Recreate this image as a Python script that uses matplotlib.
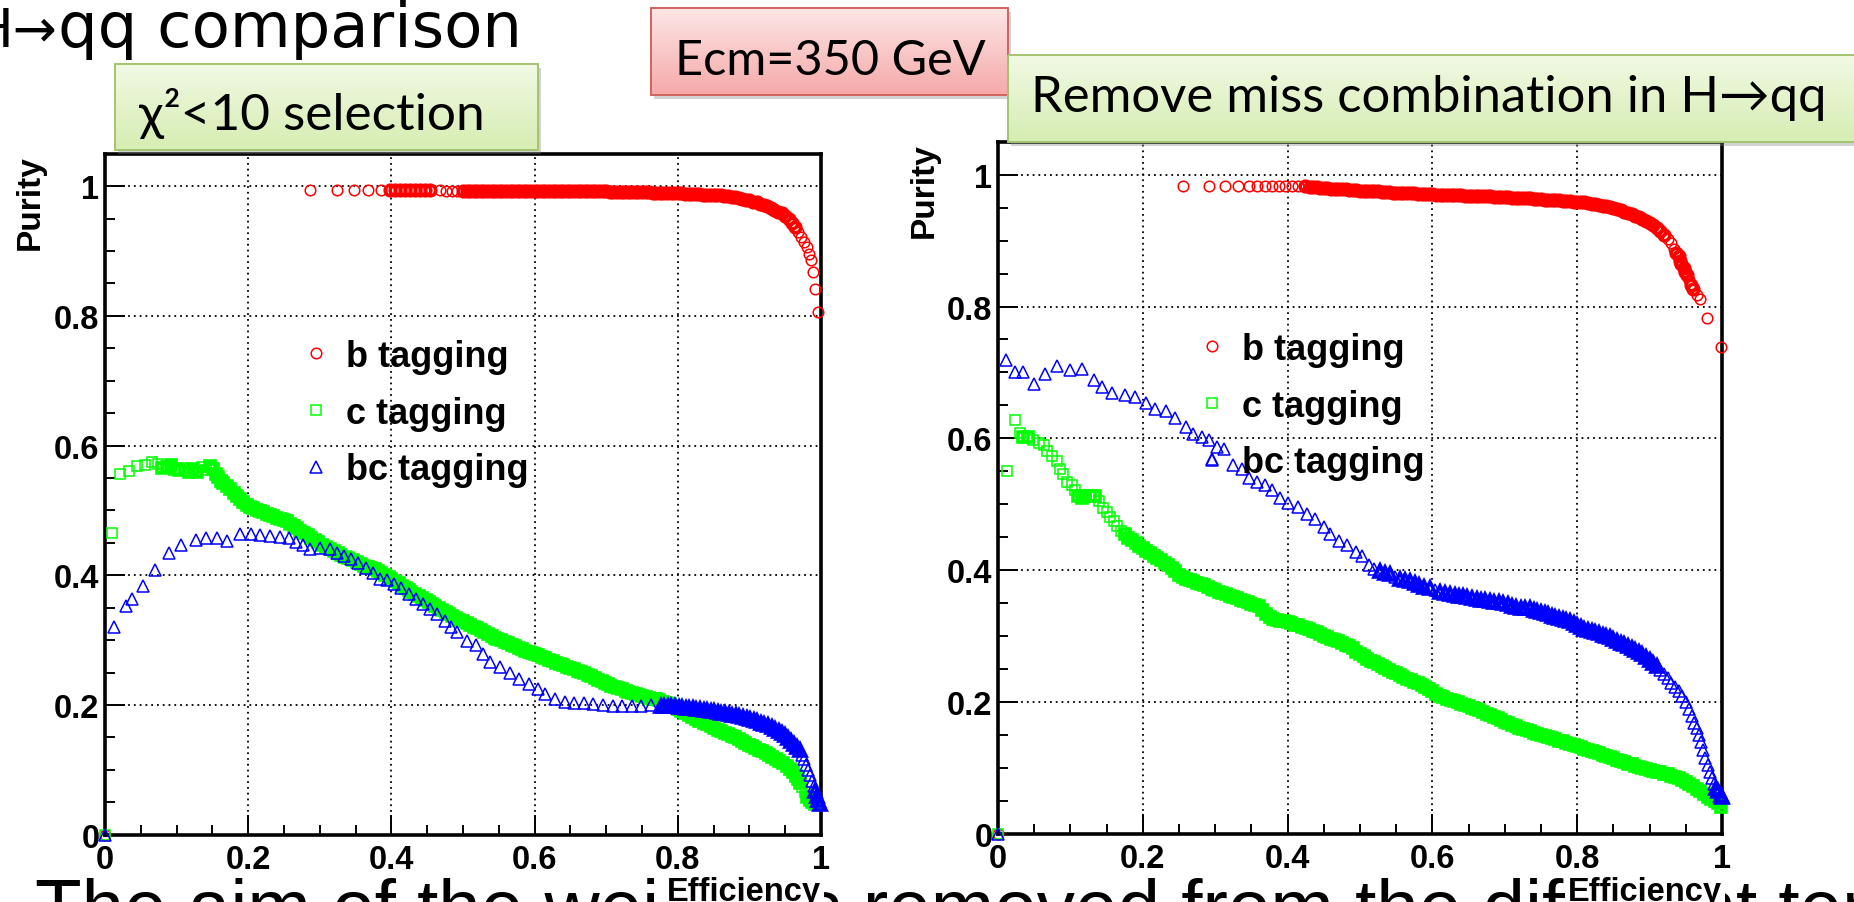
import numpy as np
import matplotlib
matplotlib.use("Agg")
import matplotlib.pyplot as plt
from matplotlib.patches import Rectangle
from matplotlib.colors import LinearSegmentedColormap
from matplotlib.ticker import MultipleLocator

plt.rcParams['font.family'] = ['Liberation Sans', 'DejaVu Sans']

# (efficiency, purity) points
# left panel: chi2<10 selection
left_b = [(0.0, 0.0), (0.287, 0.994), (0.324, 0.994), (0.348, 0.994), (0.368, 0.994), (0.385, 0.994),
          (0.398, 0.994), (0.405, 0.994), (0.412, 0.994), (0.419, 0.994), (0.426, 0.994), (0.433, 0.994),
          (0.440, 0.994), (0.447, 0.994), (0.454, 0.994), (0.468, 0.994), (0.476, 0.993), (0.484, 0.993),
          (0.492, 0.993), (0.500, 0.993), (0.505, 0.993), (0.510, 0.993), (0.515, 0.993), (0.520, 0.993),
          (0.525, 0.993), (0.530, 0.993), (0.535, 0.993), (0.540, 0.993), (0.545, 0.993), (0.550, 0.993),
          (0.555, 0.993), (0.560, 0.993), (0.565, 0.993), (0.570, 0.993), (0.575, 0.993), (0.580, 0.993),
          (0.585, 0.993), (0.590, 0.993), (0.595, 0.993), (0.600, 0.993), (0.605, 0.992), (0.610, 0.992),
          (0.615, 0.992), (0.620, 0.992), (0.625, 0.992), (0.630, 0.992), (0.635, 0.992), (0.640, 0.992),
          (0.645, 0.992), (0.650, 0.992), (0.655, 0.992), (0.660, 0.992), (0.665, 0.992), (0.670, 0.992),
          (0.675, 0.992), (0.680, 0.992), (0.685, 0.992), (0.690, 0.992), (0.695, 0.992), (0.700, 0.992),
          (0.705, 0.991), (0.710, 0.991), (0.715, 0.991), (0.720, 0.991), (0.725, 0.991), (0.730, 0.991),
          (0.735, 0.991), (0.740, 0.991), (0.745, 0.991), (0.750, 0.991), (0.755, 0.991), (0.760, 0.991),
          (0.765, 0.990), (0.770, 0.990), (0.775, 0.990), (0.780, 0.990), (0.785, 0.989), (0.790, 0.989),
          (0.795, 0.989), (0.800, 0.989), (0.805, 0.989), (0.810, 0.988), (0.815, 0.988), (0.820, 0.988),
          (0.825, 0.988), (0.830, 0.988), (0.835, 0.987), (0.840, 0.987), (0.845, 0.987), (0.850, 0.987),
          (0.855, 0.986), (0.860, 0.986), (0.865, 0.985), (0.870, 0.985), (0.875, 0.984), (0.880, 0.983),
          (0.885, 0.982), (0.890, 0.980), (0.895, 0.979), (0.900, 0.978), (0.905, 0.976), (0.910, 0.975),
          (0.915, 0.973), (0.920, 0.971), (0.925, 0.970), (0.930, 0.967), (0.935, 0.964), (0.940, 0.961),
          (0.945, 0.958), (0.950, 0.954), (0.955, 0.949), (0.960, 0.943), (0.964, 0.937), (0.968, 0.930),
          (0.972, 0.922), (0.976, 0.914), (0.980, 0.906), (0.983, 0.896), (0.986, 0.886), (0.989, 0.868),
          (0.992, 0.842), (0.996, 0.806)]

left_c = [(0.0, 0.0), (0.010, 0.465), (0.021, 0.556), (0.034, 0.561), (0.044, 0.569), (0.056, 0.570),
          (0.065, 0.574), (0.074, 0.572), (0.080, 0.566), (0.086, 0.567), (0.092, 0.570), (0.098, 0.564),
          (0.104, 0.562), (0.112, 0.566), (0.118, 0.560), (0.123, 0.564), (0.129, 0.560), (0.135, 0.567),
          (0.141, 0.562), (0.147, 0.569), (0.151, 0.564), (0.155, 0.556), (0.158, 0.551), (0.162, 0.546),
          (0.165, 0.543), (0.170, 0.538), (0.175, 0.533), (0.180, 0.527), (0.184, 0.523), (0.188, 0.518),
          (0.193, 0.513), (0.198, 0.509), (0.203, 0.506), (0.207, 0.504), (0.212, 0.501), (0.217, 0.499),
          (0.221, 0.497), (0.226, 0.495), (0.231, 0.493), (0.235, 0.491), (0.240, 0.489), (0.245, 0.487),
          (0.250, 0.485), (0.254, 0.483), (0.259, 0.479), (0.264, 0.476), (0.268, 0.473), (0.273, 0.469),
          (0.278, 0.465), (0.283, 0.462), (0.288, 0.458), (0.293, 0.455), (0.298, 0.451), (0.303, 0.447),
          (0.308, 0.444), (0.314, 0.441), (0.320, 0.437), (0.325, 0.434), (0.330, 0.431), (0.335, 0.428),
          (0.340, 0.426), (0.347, 0.423), (0.352, 0.420), (0.357, 0.418), (0.362, 0.415), (0.367, 0.413),
          (0.372, 0.411), (0.377, 0.409), (0.381, 0.407), (0.386, 0.404), (0.391, 0.400), (0.396, 0.397),
          (0.400, 0.394), (0.405, 0.391), (0.410, 0.388), (0.415, 0.384), (0.420, 0.380), (0.424, 0.377),
          (0.428, 0.374), (0.433, 0.371), (0.438, 0.368), (0.443, 0.365), (0.448, 0.362), (0.452, 0.359),
          (0.457, 0.356), (0.461, 0.353), (0.466, 0.350), (0.471, 0.346), (0.476, 0.343), (0.481, 0.340),
          (0.485, 0.337), (0.490, 0.334), (0.495, 0.331), (0.500, 0.329), (0.505, 0.326), (0.510, 0.323),
          (0.515, 0.320), (0.520, 0.318), (0.525, 0.315), (0.530, 0.312), (0.535, 0.310), (0.540, 0.307),
          (0.544, 0.304), (0.548, 0.302), (0.553, 0.300), (0.558, 0.297), (0.563, 0.295), (0.568, 0.293),
          (0.573, 0.291), (0.578, 0.288), (0.582, 0.286), (0.587, 0.284), (0.592, 0.282), (0.596, 0.280),
          (0.600, 0.279), (0.605, 0.277), (0.610, 0.274), (0.615, 0.272), (0.620, 0.270), (0.625, 0.268),
          (0.630, 0.265), (0.635, 0.263), (0.640, 0.261), (0.645, 0.259), (0.650, 0.257), (0.655, 0.255),
          (0.660, 0.253), (0.665, 0.251), (0.669, 0.250), (0.674, 0.247), (0.679, 0.245), (0.684, 0.242),
          (0.689, 0.239), (0.694, 0.237), (0.698, 0.234), (0.702, 0.232), (0.707, 0.230), (0.712, 0.228),
          (0.717, 0.226), (0.722, 0.224), (0.727, 0.222), (0.731, 0.220), (0.736, 0.219), (0.741, 0.217),
          (0.746, 0.215), (0.750, 0.214), (0.755, 0.213), (0.760, 0.211), (0.765, 0.210), (0.769, 0.209),
          (0.774, 0.207), (0.779, 0.205), (0.784, 0.203), (0.789, 0.201), (0.794, 0.198), (0.800, 0.194),
          (0.805, 0.191), (0.810, 0.188), (0.815, 0.185), (0.820, 0.182), (0.825, 0.179), (0.830, 0.176),
          (0.836, 0.173), (0.841, 0.170), (0.846, 0.168), (0.851, 0.165), (0.856, 0.162), (0.861, 0.160),
          (0.866, 0.157), (0.870, 0.155), (0.875, 0.152), (0.880, 0.150), (0.885, 0.147), (0.890, 0.144),
          (0.894, 0.142), (0.899, 0.139), (0.903, 0.137), (0.908, 0.134), (0.913, 0.131), (0.918, 0.129),
          (0.923, 0.126), (0.928, 0.123), (0.932, 0.120), (0.937, 0.117), (0.942, 0.113), (0.947, 0.110),
          (0.952, 0.106), (0.957, 0.101), (0.961, 0.097), (0.965, 0.091), (0.968, 0.086), (0.971, 0.080),
          (0.974, 0.073), (0.977, 0.066), (0.980, 0.058), (0.984, 0.053), (0.988, 0.050), (0.992, 0.048)]

left_bc = [(0.0, 0.0), (0.013, 0.320), (0.029, 0.353), (0.038, 0.363), (0.053, 0.383), (0.070, 0.408),
           (0.090, 0.435), (0.106, 0.446), (0.127, 0.455), (0.141, 0.457), (0.157, 0.457), (0.171, 0.453),
           (0.188, 0.464), (0.204, 0.464), (0.217, 0.462), (0.230, 0.460), (0.244, 0.459), (0.257, 0.457),
           (0.267, 0.451), (0.277, 0.446), (0.287, 0.441), (0.300, 0.442), (0.314, 0.441), (0.324, 0.435),
           (0.334, 0.430), (0.344, 0.425), (0.354, 0.419), (0.364, 0.412), (0.374, 0.404), (0.384, 0.394),
           (0.394, 0.392), (0.404, 0.387), (0.414, 0.381), (0.424, 0.371), (0.434, 0.363), (0.444, 0.356),
           (0.454, 0.348), (0.464, 0.340), (0.475, 0.330), (0.483, 0.320), (0.491, 0.312), (0.505, 0.299),
           (0.518, 0.292), (0.528, 0.279), (0.538, 0.266), (0.552, 0.258), (0.565, 0.250), (0.578, 0.240),
           (0.592, 0.232), (0.605, 0.225), (0.615, 0.217), (0.629, 0.209), (0.642, 0.204), (0.655, 0.203),
           (0.669, 0.203), (0.682, 0.202), (0.695, 0.200), (0.709, 0.199), (0.722, 0.199), (0.736, 0.199),
           (0.749, 0.199), (0.762, 0.200), (0.776, 0.199), (0.781, 0.199), (0.786, 0.199), (0.791, 0.198),
           (0.796, 0.198), (0.801, 0.197), (0.806, 0.197), (0.811, 0.196), (0.816, 0.196), (0.821, 0.195),
           (0.826, 0.194), (0.831, 0.194), (0.836, 0.193), (0.841, 0.192), (0.846, 0.191), (0.851, 0.190),
           (0.856, 0.189), (0.861, 0.188), (0.866, 0.187), (0.871, 0.186), (0.876, 0.185), (0.881, 0.184),
           (0.886, 0.183), (0.891, 0.181), (0.896, 0.180), (0.901, 0.178), (0.906, 0.177), (0.911, 0.175),
           (0.916, 0.173), (0.921, 0.171), (0.926, 0.169), (0.931, 0.166), (0.936, 0.163), (0.941, 0.160),
           (0.946, 0.157), (0.950, 0.153), (0.954, 0.149), (0.958, 0.145), (0.962, 0.140), (0.966, 0.135),
           (0.970, 0.130), (0.973, 0.123), (0.976, 0.116), (0.979, 0.108), (0.982, 0.100), (0.985, 0.092),
           (0.988, 0.083), (0.990, 0.075), (0.992, 0.067), (0.994, 0.060), (0.996, 0.053), (0.998, 0.047)]

# right panel: miss-combination removed
right_b = [(0.0, 0.0), (0.256, 0.983), (0.291, 0.983), (0.313, 0.983), (0.331, 0.983), (0.346, 0.983),
           (0.358, 0.983), (0.369, 0.983), (0.378, 0.983), (0.388, 0.983), (0.397, 0.983), (0.406, 0.983),
           (0.415, 0.983), (0.424, 0.983), (0.431, 0.982), (0.435, 0.981), (0.440, 0.981), (0.445, 0.980),
           (0.450, 0.980), (0.455, 0.980), (0.460, 0.979), (0.465, 0.979), (0.470, 0.978), (0.475, 0.978),
           (0.480, 0.978), (0.485, 0.977), (0.490, 0.977), (0.495, 0.977), (0.500, 0.976), (0.505, 0.976),
           (0.510, 0.976), (0.515, 0.975), (0.520, 0.975), (0.525, 0.975), (0.530, 0.974), (0.535, 0.974),
           (0.540, 0.974), (0.545, 0.973), (0.550, 0.973), (0.555, 0.973), (0.560, 0.972), (0.565, 0.972),
           (0.570, 0.972), (0.575, 0.972), (0.580, 0.971), (0.585, 0.971), (0.590, 0.971), (0.595, 0.971),
           (0.600, 0.971), (0.605, 0.970), (0.610, 0.970), (0.615, 0.970), (0.620, 0.970), (0.625, 0.969),
           (0.630, 0.969), (0.635, 0.969), (0.640, 0.969), (0.645, 0.968), (0.650, 0.968), (0.655, 0.968),
           (0.660, 0.968), (0.665, 0.967), (0.670, 0.967), (0.675, 0.967), (0.680, 0.967), (0.685, 0.966),
           (0.690, 0.966), (0.695, 0.966), (0.700, 0.966), (0.705, 0.966), (0.710, 0.965), (0.715, 0.965),
           (0.720, 0.965), (0.725, 0.964), (0.730, 0.964), (0.735, 0.964), (0.740, 0.963), (0.745, 0.963),
           (0.750, 0.963), (0.755, 0.962), (0.760, 0.962), (0.765, 0.962), (0.770, 0.961), (0.775, 0.961),
           (0.780, 0.960), (0.785, 0.960), (0.790, 0.960), (0.795, 0.959), (0.800, 0.959), (0.805, 0.958),
           (0.810, 0.958), (0.815, 0.957), (0.820, 0.956), (0.825, 0.955), (0.830, 0.954), (0.835, 0.953),
           (0.840, 0.952), (0.845, 0.951), (0.850, 0.949), (0.855, 0.948), (0.860, 0.946), (0.865, 0.944),
           (0.870, 0.942), (0.875, 0.940), (0.880, 0.938), (0.885, 0.936), (0.890, 0.933), (0.895, 0.930),
           (0.900, 0.927), (0.905, 0.923), (0.910, 0.919), (0.915, 0.914), (0.920, 0.909), (0.925, 0.903),
           (0.930, 0.896), (0.934, 0.888), (0.937, 0.881), (0.940, 0.876), (0.942, 0.869), (0.944, 0.864),
           (0.947, 0.858), (0.949, 0.853), (0.951, 0.848), (0.954, 0.840), (0.957, 0.832), (0.960, 0.826),
           (0.965, 0.818), (0.970, 0.812), (0.979, 0.783), (0.999, 0.739)]

right_c = [(0.0, 0.0), (0.013, 0.551), (0.024, 0.627), (0.030, 0.608), (0.035, 0.602), (0.042, 0.602),
           (0.049, 0.597), (0.056, 0.593), (0.063, 0.590), (0.067, 0.580), (0.074, 0.573), (0.081, 0.566),
           (0.086, 0.553), (0.090, 0.546), (0.095, 0.533), (0.102, 0.529), (0.107, 0.522), (0.111, 0.512),
           (0.116, 0.509), (0.120, 0.512), (0.127, 0.512), (0.134, 0.512), (0.139, 0.505), (0.145, 0.494),
           (0.150, 0.488), (0.155, 0.481), (0.160, 0.475), (0.165, 0.467), (0.170, 0.460), (0.175, 0.454),
           (0.180, 0.449), (0.185, 0.445), (0.190, 0.441), (0.195, 0.437), (0.200, 0.433), (0.205, 0.429),
           (0.210, 0.426), (0.215, 0.422), (0.220, 0.418), (0.225, 0.415), (0.230, 0.411), (0.235, 0.407),
           (0.240, 0.403), (0.245, 0.398), (0.250, 0.393), (0.255, 0.390), (0.260, 0.387), (0.265, 0.385),
           (0.270, 0.383), (0.275, 0.381), (0.280, 0.379), (0.285, 0.377), (0.290, 0.375), (0.295, 0.372),
           (0.300, 0.370), (0.305, 0.367), (0.310, 0.365), (0.315, 0.363), (0.320, 0.361), (0.325, 0.359),
           (0.330, 0.357), (0.335, 0.355), (0.340, 0.353), (0.345, 0.351), (0.350, 0.349), (0.355, 0.347),
           (0.360, 0.345), (0.365, 0.340), (0.370, 0.334), (0.375, 0.329), (0.380, 0.325), (0.385, 0.324),
           (0.390, 0.323), (0.395, 0.322), (0.400, 0.321), (0.405, 0.319), (0.410, 0.317), (0.415, 0.316),
           (0.420, 0.314), (0.425, 0.312), (0.430, 0.310), (0.435, 0.308), (0.440, 0.306), (0.445, 0.303),
           (0.450, 0.300), (0.455, 0.298), (0.460, 0.296), (0.465, 0.294), (0.470, 0.292), (0.475, 0.289),
           (0.480, 0.286), (0.485, 0.284), (0.490, 0.281), (0.495, 0.276), (0.500, 0.272), (0.505, 0.269),
           (0.510, 0.265), (0.515, 0.262), (0.520, 0.260), (0.525, 0.257), (0.530, 0.254), (0.535, 0.251),
           (0.540, 0.248), (0.545, 0.245), (0.550, 0.243), (0.555, 0.240), (0.560, 0.238), (0.565, 0.235),
           (0.570, 0.233), (0.575, 0.230), (0.580, 0.228), (0.585, 0.225), (0.590, 0.222), (0.595, 0.219),
           (0.600, 0.216), (0.605, 0.212), (0.610, 0.209), (0.615, 0.207), (0.620, 0.205), (0.625, 0.203),
           (0.630, 0.201), (0.635, 0.199), (0.640, 0.197), (0.645, 0.195), (0.650, 0.193), (0.655, 0.191),
           (0.660, 0.189), (0.665, 0.187), (0.670, 0.185), (0.675, 0.182), (0.680, 0.180), (0.685, 0.177),
           (0.690, 0.175), (0.695, 0.172), (0.700, 0.170), (0.705, 0.168), (0.710, 0.165), (0.715, 0.163),
           (0.720, 0.161), (0.725, 0.159), (0.730, 0.157), (0.735, 0.155), (0.740, 0.153), (0.745, 0.151),
           (0.750, 0.150), (0.755, 0.148), (0.760, 0.146), (0.765, 0.145), (0.770, 0.143), (0.775, 0.141),
           (0.780, 0.140), (0.785, 0.138), (0.790, 0.136), (0.795, 0.135), (0.800, 0.133), (0.805, 0.131),
           (0.810, 0.129), (0.815, 0.127), (0.820, 0.126), (0.825, 0.124), (0.830, 0.122), (0.835, 0.120),
           (0.840, 0.118), (0.845, 0.116), (0.850, 0.114), (0.855, 0.112), (0.860, 0.110), (0.865, 0.108),
           (0.870, 0.106), (0.875, 0.105), (0.880, 0.103), (0.885, 0.101), (0.890, 0.099), (0.895, 0.098),
           (0.900, 0.097), (0.905, 0.095), (0.910, 0.094), (0.915, 0.093), (0.920, 0.091), (0.925, 0.090),
           (0.930, 0.088), (0.935, 0.086), (0.940, 0.084), (0.945, 0.082), (0.950, 0.079), (0.955, 0.076),
           (0.960, 0.072), (0.965, 0.068), (0.970, 0.064), (0.975, 0.060), (0.980, 0.056), (0.985, 0.053),
           (0.990, 0.050), (0.995, 0.047), (0.999, 0.041)]

right_bc = [(0.0, 0.0), (0.011, 0.719), (0.024, 0.701), (0.035, 0.701), (0.050, 0.683), (0.065, 0.698),
            (0.081, 0.710), (0.100, 0.703), (0.116, 0.705), (0.132, 0.688), (0.144, 0.678), (0.158, 0.669),
            (0.175, 0.665), (0.189, 0.663), (0.204, 0.654), (0.217, 0.644), (0.232, 0.641), (0.245, 0.631),
            (0.259, 0.617), (0.270, 0.607), (0.282, 0.602), (0.292, 0.597), (0.295, 0.568), (0.302, 0.587),
            (0.312, 0.583), (0.325, 0.560), (0.337, 0.553), (0.346, 0.539), (0.358, 0.533), (0.369, 0.529),
            (0.378, 0.522), (0.390, 0.509), (0.401, 0.502), (0.415, 0.495), (0.427, 0.485), (0.438, 0.478),
            (0.450, 0.465), (0.459, 0.455), (0.471, 0.444), (0.482, 0.438), (0.494, 0.428), (0.503, 0.421),
            (0.513, 0.407), (0.520, 0.402), (0.527, 0.398), (0.534, 0.396), (0.541, 0.394), (0.548, 0.390),
            (0.555, 0.387), (0.562, 0.385), (0.569, 0.383), (0.576, 0.380), (0.582, 0.377), (0.589, 0.375),
            (0.596, 0.373), (0.603, 0.370), (0.610, 0.367), (0.617, 0.365), (0.624, 0.363), (0.631, 0.362),
            (0.637, 0.361), (0.642, 0.360), (0.648, 0.359), (0.655, 0.357), (0.661, 0.356), (0.667, 0.355),
            (0.673, 0.354), (0.679, 0.353), (0.685, 0.352), (0.692, 0.351), (0.698, 0.350), (0.704, 0.348),
            (0.710, 0.346), (0.716, 0.344), (0.722, 0.343), (0.728, 0.342), (0.735, 0.342), (0.740, 0.340),
            (0.745, 0.338), (0.750, 0.337), (0.755, 0.335), (0.760, 0.333), (0.765, 0.331), (0.770, 0.329),
            (0.775, 0.327), (0.780, 0.326), (0.785, 0.324), (0.790, 0.323), (0.795, 0.320), (0.800, 0.317),
            (0.805, 0.314), (0.810, 0.311), (0.815, 0.309), (0.820, 0.307), (0.825, 0.306), (0.830, 0.304),
            (0.835, 0.302), (0.840, 0.300), (0.845, 0.299), (0.850, 0.296), (0.855, 0.293), (0.860, 0.290),
            (0.865, 0.288), (0.870, 0.285), (0.875, 0.282), (0.880, 0.279), (0.885, 0.276), (0.890, 0.272),
            (0.895, 0.268), (0.900, 0.264), (0.905, 0.259), (0.910, 0.255), (0.915, 0.249), (0.920, 0.242),
            (0.925, 0.236), (0.930, 0.229), (0.935, 0.223), (0.940, 0.217), (0.945, 0.209), (0.950, 0.200),
            (0.955, 0.189), (0.959, 0.178), (0.962, 0.168), (0.965, 0.160), (0.968, 0.150), (0.971, 0.139),
            (0.974, 0.127), (0.977, 0.115), (0.980, 0.104), (0.983, 0.094), (0.986, 0.085), (0.989, 0.076),
            (0.992, 0.069), (0.995, 0.064), (0.998, 0.058), (1.000, 0.055)]

series_names = ['b tagging', 'c tagging', 'bc tagging']
tick_vals = [0, 0.2, 0.4, 0.6, 0.8, 1]
tick_text = ['0', '0.2', '0.4', '0.6', '0.8', '1']

title_head = 'H\u2192'
title_tail = 'qq comparison'
box_left = '\u03c7\u00b2<10 selection'
box_ecm = 'Ecm=350 GeV'
box_right = 'Remove miss combination in H\u2192qq'
# slide body line, mostly hidden below the bottom edge of the screenshot
body_line = 'The aim of the weight is removed from the different template position'

W, H = 1854, 903
fig = plt.figure(figsize=(W / 100, H / 100), dpi=100)
fig.patch.set_facecolor('white')

# slide text behind the plots, only the tops of its glyphs fall inside the frame
back = fig.add_axes([0, 0, 1, 1], zorder=0)
back.axis('off')
back.text(35, 933, body_line, fontsize=55, va='baseline', color='black')
back.set_xlim(0, W)
back.set_ylim(H, 0)


def axes_px(x0, x1, top, bottom):
    return fig.add_axes([x0 / W, 1 - bottom / H, (x1 - x0) / W, (bottom - top) / H], zorder=2)


markers = [('o', '#ff0000', 7.6), ('s', '#00ff00', 7.0), ('^', '#0000ff', 8.0)]


def draw_panel(ax, data, ylab_x, xlab_y, leg_anchor):
    handles = []
    for pts, (mk, col, ms), name in zip(data, markers, series_names):
        x, y = np.array(pts).T
        # where ROOT packed points tightly the open markers merge into a band
        gap = np.hypot(np.diff(x), np.diff(y))
        near = np.minimum(np.r_[gap, 1.0], np.r_[1.0, gap]) < 0.0075
        ax.plot(x[near], y[near], ls='none', marker=mk, ms=ms, mfc='none', mec=col, mew=2.6,
                clip_on=False, zorder=3)
        h, = ax.plot(x[~near], y[~near], ls='none', marker=mk, ms=ms, mfc='none', mec=col,
                     mew=1.1, clip_on=False, zorder=3, label=name)
        handles.append(h)
    ax.set_xlim(0, 1)
    ax.set_ylim(0, 1.05)
    ax.set_xticks(tick_vals, tick_text, fontsize=23.5, fontweight='bold')
    ax.set_yticks(tick_vals, tick_text, fontsize=23.5, fontweight='bold')
    ax.xaxis.set_minor_locator(MultipleLocator(0.05))
    ax.yaxis.set_minor_locator(MultipleLocator(0.05))
    ax.tick_params(which='major', direction='in', length=14.4, width=1.4, top=False, right=False)
    ax.tick_params(which='minor', direction='in', length=7.2, width=1.4, top=False, right=False)
    ax.tick_params(axis='x', which='major', pad=7)
    ax.tick_params(axis='y', which='major', pad=4)
    ax.grid(True, which='major', ls=(0, (1, 2.2)), lw=1.3, color='black')
    ax.set_axisbelow(True)
    for s in ax.spines.values():
        s.set_linewidth(2.6)
    ax.set_ylabel('Purity', fontsize=24, fontweight='bold', loc='top')
    ax.yaxis.set_label_coords(ylab_x, 1.0)
    ax.set_xlabel('Efficiency', fontsize=23.5, fontweight='bold', loc='right',
                  bbox=dict(fc='white', ec='none', pad=2))
    ax.xaxis.set_label_coords(1.0, xlab_y)
    ax.legend(handles=handles, loc='upper left', bbox_to_anchor=leg_anchor, frameon=False,
              prop={'size': 26, 'weight': 'bold'}, handlelength=1.0, handletextpad=0.33,
              labelspacing=0.6, borderpad=0, borderaxespad=0, numpoints=1)


ax_l = axes_px(105, 821, 154.8, 835.7)
draw_panel(ax_l, [left_b, left_c, left_bc], -0.083, -0.06, (0.27, 0.728))
ax_r = axes_px(998, 1722, 142.8, 834.6)
draw_panel(ax_r, [right_b, right_c, right_bc], -0.081, -0.061, (0.271, 0.725))

# slide decorations on top
front = fig.add_axes([0, 0, 1, 1], zorder=5)
front.axis('off')
front.patch.set_alpha(0)


def slide_box(x0, y0, x1, y1, top_col, bot_col, edge):
    front.add_patch(Rectangle((x0 + 3, y0 + 4), x1 - x0, y1 - y0, fc='#808080', ec='none',
                              alpha=0.35, zorder=1))
    cmap = LinearSegmentedColormap.from_list('box', [top_col, bot_col])
    front.imshow(np.linspace(0, 1, 64)[:, None], cmap=cmap, extent=(x0, x1, y1, y0),
                 aspect='auto', zorder=2, interpolation='bilinear')
    front.add_patch(Rectangle((x0, y0), x1 - x0, y1 - y0, fill=False, ec=edge, lw=1.4, zorder=3))


slide_box(115, 65, 538, 151, '#f1f9e4', '#d6edb2', '#a4c46f')
slide_box(651, 9, 1008, 96, '#fde6e6', '#f5a9a9', '#d0625e')
slide_box(1008, 56, 1870, 143, '#f1f9e4', '#d6edb2', '#a4c46f')

box_font = ['Lato', 'DejaVu Sans']
front.text(139, 130, box_left, fontsize=37, family=box_font, va='baseline', zorder=4)
front.text(830, 75, box_ecm, fontsize=35, family=box_font, ha='center', va='baseline', zorder=4)
front.text(1031, 112, box_right, fontsize=36.5, family=box_font, va='baseline', zorder=4)
front.text(58, 47, title_head, fontsize=38, family=['DejaVu Sans'], ha='right', va='baseline', zorder=4)
front.text(58, 47, title_tail, fontsize=45, family=['DejaVu Sans'], ha='left', va='baseline', zorder=4)

front.set_xlim(0, W)
front.set_ylim(H, 0)

fig.savefig('out.png', dpi=100)
